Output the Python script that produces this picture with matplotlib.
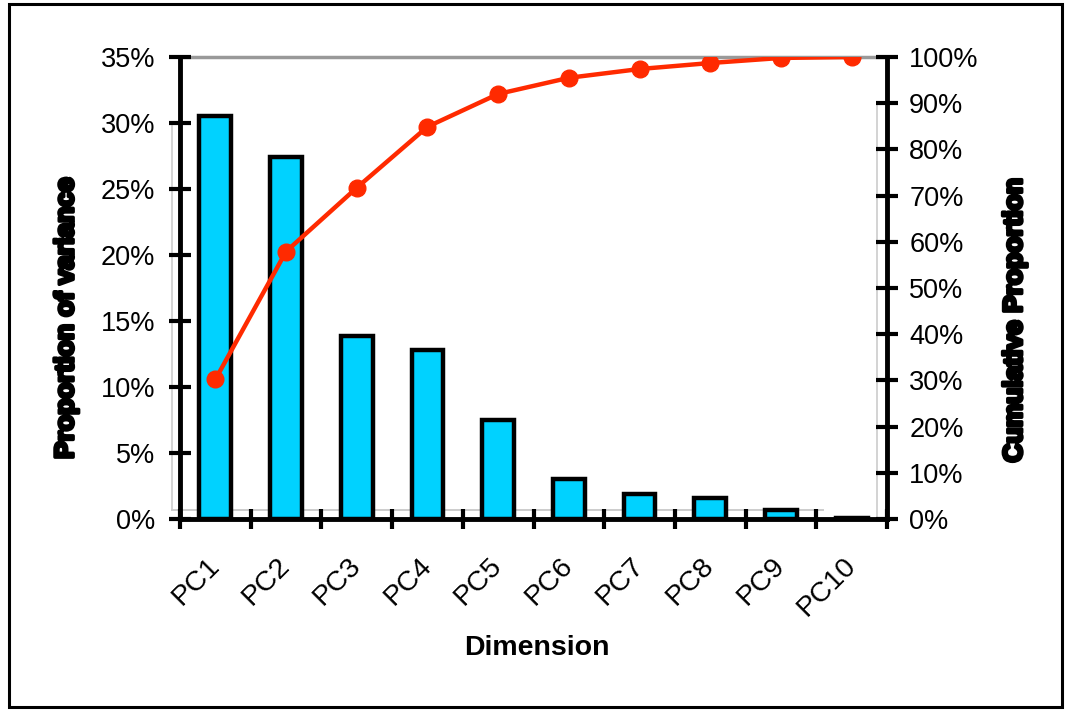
import numpy as np
import matplotlib
matplotlib.use("Agg")
import matplotlib.pyplot as plt
import matplotlib.patheffects as pe
from matplotlib.ticker import PercentFormatter, FixedLocator

# data
components = ["PC1", "PC2", "PC3", "PC4", "PC5", "PC6", "PC7", "PC8", "PC9", "PC10"]
prop_var = [30.5, 27.4, 13.9, 12.8, 7.5, 3.0, 1.9, 1.6, 0.7, 0.1]
cum_prop = [30.2, 57.9, 71.7, 84.9, 92.0, 95.5, 97.4, 98.7, 99.8, 100.0]

plt.rcParams["font.family"] = ["Liberation Sans", "DejaVu Sans"]


def main():
    fig = plt.figure(figsize=(10.67, 7.10), dpi=100)
    ax = fig.add_axes([0.1687, 0.2690, 0.6626, 0.6507])
    ax2 = ax.twinx()

    x = np.arange(len(components))
    ax.bar(x, prop_var, width=0.45, color="#00D2FF", edgecolor="black",
           linewidth=3.2, zorder=2)
    ax.set_xlim(-0.5, len(components) - 0.5)
    ax.set_ylim(0, 35)
    ax.yaxis.set_major_locator(FixedLocator(np.arange(0, 36, 5)))
    ax.yaxis.set_major_formatter(PercentFormatter(decimals=0))

    ax2.plot(x, cum_prop, color="#FF2A00", linewidth=3.2, marker="o",
             markersize=12, zorder=5)
    ax2.set_ylim(0, 100)
    ax2.yaxis.set_major_locator(FixedLocator(np.arange(0, 101, 10)))
    ax2.yaxis.set_major_formatter(PercentFormatter(decimals=0))
    ax2.set_xlim(-0.5, len(components) - 0.5)

    # x ticks on category boundaries, labels at centres
    ax.set_xticks(np.arange(-0.5, len(components), 1.0))
    ax.set_xticklabels([])
    ax.set_xticks(x, minor=True)
    ax.set_xticklabels(components, minor=True, rotation=45, ha="right",
                       va="center", rotation_mode="anchor", fontsize=20.5)
    ax.tick_params(axis="x", which="major", direction="inout", length=15,
                   width=3, color="black")
    ax.tick_params(axis="x", which="minor", length=0, pad=31)

    ax.tick_params(axis="y", direction="inout", length=16, width=3,
                   labelsize=19.5, pad=10)
    ax2.tick_params(axis="y", direction="inout", length=16, width=3,
                    labelsize=19.5, pad=8)

    for a in (ax, ax2):
        for s in a.spines.values():
            s.set_visible(False)
    ax.spines["left"].set_visible(True)
    ax.spines["left"].set_linewidth(3.5)
    ax.spines["bottom"].set_visible(True)
    ax.spines["bottom"].set_linewidth(3.5)
    ax.spines["bottom"].set_zorder(4)
    ax2.spines["right"].set_visible(True)
    ax2.spines["right"].set_linewidth(3.5)

    # gray plot-area remnants
    ax.plot([0, 1], [1, 1], transform=ax.transAxes, color="#999999",
            linewidth=2.5, clip_on=False, zorder=1)
    ax.plot([-0.011, 0.91], [0.02, 0.02], transform=ax.transAxes,
            color="#cccccc", linewidth=1.4, clip_on=False, zorder=1)
    ax.plot([-0.011, -0.011], [0.02, 0.85], transform=ax.transAxes,
            color="#cccccc", linewidth=1.2, clip_on=False, zorder=1)
    ax.plot([0.986, 0.986], [0.0, 0.9], transform=ax.transAxes,
            color="#cccccc", linewidth=1.2, clip_on=False, zorder=1)

    heavy = [pe.withStroke(linewidth=2.5, foreground="black")]
    fig.text(0.062, 0.552, "Proportion of variance", rotation=90,
             ha="center", va="center", fontsize=19, fontweight="bold",
             path_effects=heavy)
    fig.text(0.951, 0.549, "Cumulative Proportion", rotation=90,
             ha="center", va="center", fontsize=19, fontweight="bold",
             path_effects=heavy)
    fig.text(0.503, 0.087, "Dimension", ha="center", va="center",
             fontsize=20.5, fontweight="bold")

    # outer chart border
    fig.patches.append(plt.Rectangle((0.0085, 0.004), 0.987, 0.99,
                                     transform=fig.transFigure, fill=False,
                                     edgecolor="black", linewidth=2.2))

    fig.savefig("out.png", dpi=100)


if __name__ == "__main__":
    main()
